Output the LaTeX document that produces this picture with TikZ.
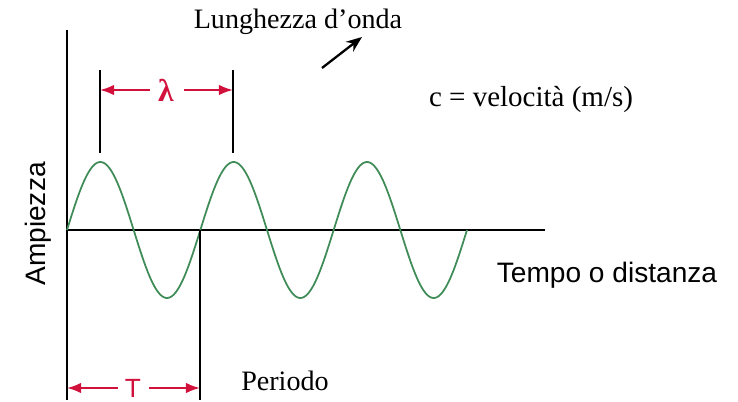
\documentclass[tikz,border=0pt]{standalone}
\usepackage{fontspec}
\setmainfont{Liberation Serif}
\setsansfont{Liberation Sans}
\usetikzlibrary{arrows.meta, positioning}
\definecolor{wavegreen}{RGB}{64,140,88}
\definecolor{dimred}{RGB}{210,16,60}
\tikzset{
    axis/.style={draw=black, line width=0.8pt},
    marker/.style={draw=black, line width=0.8pt},
    wave/.style={draw=wavegreen, line width=1pt},
    dimarrow/.style={draw=dimred, line width=1.1pt, -{Latex[length=8pt, width=6pt]}},
    dimlabel/.style={text=dimred, font=\sffamily\fontsize{15}{15}\selectfont, inner sep=1pt},
    serifbig/.style={font=\fontsize{16}{18}\selectfont, inner sep=0pt},
    sansbig/.style={font=\sffamily\fontsize{16}{18}\selectfont, inner sep=0pt},
    pointer/.style={line width=1.3pt, -{Stealth[length=9pt, width=7pt]}}
}

\begin{document}
\begin{tikzpicture}[x=0.02cm, y=-0.02cm]
        \useasboundingbox (0,0) rectangle (738,402);

        % axes
        \coordinate (yTop) at (67,30);
        \coordinate (origin) at (67,230);
        \coordinate (yBot) at (67,400);
        \coordinate (xEnd) at (545,230);
        \draw [axis] (yTop) -- (yBot);
        \draw [axis] (origin) -- (xEnd);

        % wave
        \draw [wave] plot[domain=0:400, samples=240, smooth] ({67+\x}, {230-68*sin(2.7*\x)});

        % wavelength markers
        \coordinate (peakA) at (100,153);
        \coordinate (peakAtop) at (100,70);
        \coordinate (peakB) at (233,153);
        \coordinate (peakBtop) at (233,70);
        \draw [marker] (peakA) -- (peakAtop);
        \draw [marker] (peakB) -- (peakBtop);
        \node (lambda) [dimlabel, font=\rmfamily\bfseries\fontsize{18}{18}\selectfont] at (166,90) {λ};
        \coordinate (lamL) at (100,90);
        \coordinate (lamR) at (233,90);
        \draw [dimarrow] (150,90) -- (lamL);
        \draw [dimarrow] (184,90) -- (lamR);

        % period markers
        \coordinate (cross) at (200,230);
        \coordinate (crossBot) at (200,400);
        \draw [marker] (cross) -- (crossBot);
        \node (period) [dimlabel] at (133,388) {T};
        \coordinate (perL) at (67,388);
        \coordinate (perR) at (200,388);
        \draw [dimarrow] (118,388) -- (perL);
        \draw [dimarrow] (149,388) -- (perR);

        % labels
        \node (wavelength) [serifbig] at (298,22) {Lunghezza d’onda};
        \coordinate (pointFrom) at (322,68);
        \coordinate (pointTo) at (362,37);
        \draw [pointer] (pointFrom) -- (pointTo);
        \node (speed) [serifbig, font=\fontsize{16.5}{18}\selectfont] at (531,100) {c = velocità (m/s)};
        \node (amplitude) [sansbig, rotate=90] at (38,224) {Ampiezza};
        \node (timeDist) [sansbig] at (607,275) {Tempo o distanza};
        \node (periodText) [serifbig] at (285,381) {Periodo};
    \end{tikzpicture}
\end{document}
